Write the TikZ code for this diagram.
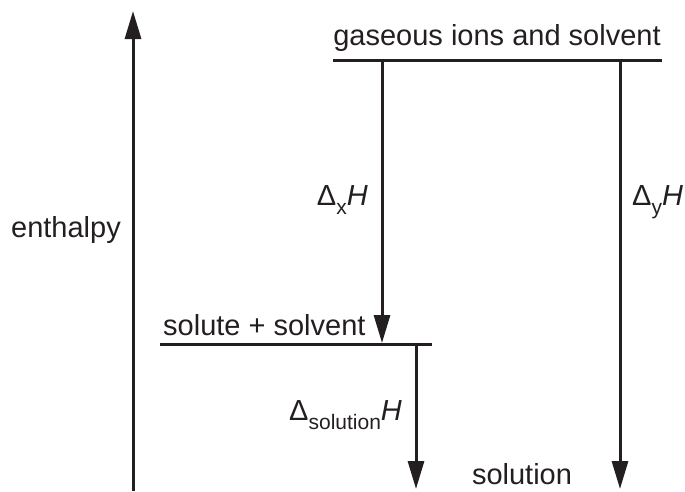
\documentclass[tikz,border=0pt]{standalone}
\usepackage{fontspec}
\setmainfont{Liberation Sans}
\usetikzlibrary{arrows.meta,positioning}
\definecolor{ink}{RGB}{35,31,32}
\newcommand{\dH}[1]{Δ\raisebox{-9pt}{\fontsize{21}{21}\selectfont #1}\textit{H}}

\begin{document}
\begin{tikzpicture}[x=1pt,y=-1pt,
  level/.style={draw=ink,line width=3pt},
  shiftarrow/.style={draw=ink,line width=3pt,-{Triangle[length=28pt,width=16pt]}},
  lbl/.style={font=\fontsize{29}{34}\selectfont,text=ink,inner sep=0pt}
]
  \useasboundingbox (0,0) rectangle (685,491);

  % Enthalpy axis
  \coordinate (hbot) at (133,491);
  \coordinate (htop) at (133,11);
  \draw[shiftarrow] (hbot) -- (htop);
  \node[lbl,anchor=base] (enth) at (66,237) {enthalpy};

  % Top level: gaseous ions
  \coordinate (gl) at (333,60);
  \coordinate (gr) at (662,60);
  \draw[level] (gl) -- (gr);
  \node[lbl,anchor=base] (gas) at (497,45) {gaseous ions and solvent};

  % Middle level: solute + solvent
  \coordinate (sl) at (160,344);
  \coordinate (sr) at (432,344);
  \draw[level] (sl) -- (sr);
  \node[lbl,anchor=base west] (solute) at (163,335) {solute + solvent};

  % Arrow ends
  \coordinate (xtop) at (382,60);
  \coordinate (xbot) at (382,343);
  \coordinate (ytop) at (620,60);
  \coordinate (ybot) at (620,489);
  \coordinate (stop) at (416,344);
  \coordinate (sbot) at (416,489);

  % Enthalpy changes
  \draw[shiftarrow] (xtop) -- (xbot);
  \draw[shiftarrow] (ytop) -- (ybot);
  \draw[shiftarrow] (stop) -- (sbot);
  \node[lbl,anchor=base east] (dx) at (368,205) {\dH{x}};
  \node[lbl,anchor=base west] (dy) at (632,205) {\dH{y}};
  \node[lbl,anchor=base west] (dsol) at (289,420) {\dH{solution}};

  % Bottom: solution
  \node[lbl,anchor=base] (soln) at (522,484) {solution};
\end{tikzpicture}
\end{document}
